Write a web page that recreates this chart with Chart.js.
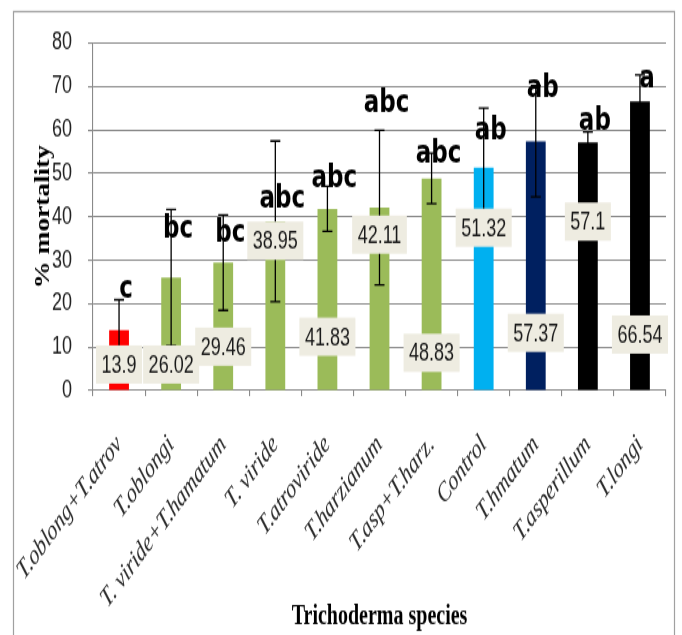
<!DOCTYPE html>
<html>
<head>
<meta charset="utf-8">
<script src="https://cdn.jsdelivr.net/npm/chart.js@4.4.0/dist/chart.umd.min.js"></script>
<style>
  html, body { margin: 0; padding: 0; background: #fff; }
  body { width: 682px; height: 635px; overflow: visible; }
  /* the source picture is a vertically stretched Excel chart */
  #wrap { width: 682px; height: 465px; transform: scaleY(1.3656); transform-origin: 0 0; }
</style>
</head>
<body>
<div id="wrap"><canvas id="chartMortality" width="682" height="465"></canvas></div>
<script>
const species = ['T.oblong+T.atrov', 'T.oblongi', 'T. viride+T.hamatum', 'T. viride', 'T.atroviride',
  'T.harzianum', 'T.asp+T.harz.', 'Control', 'T.hmatum', 'T.asperillum', 'T.longi'];
const mortality = [13.9, 26.02, 29.46, 38.95, 41.83, 42.11, 48.83, 51.32, 57.37, 57.1, 66.54];
const errors = [7.0, 15.7, 11.0, 18.5, 5.2, 17.8, 5.8, 13.7, 12.8, 2.4, 6.1];
const groups = ['c', 'bc', 'bc', 'abc', 'abc', 'abc', 'abc', 'ab', 'ab', 'ab', 'a'];
const yMin = 0, yMax = 80, yStep = 10;

// where the value boxes and the letters sit (in axis units)
const labelAt = [6.0, 6.0, 10.1, 34.5, 12.4, 35.9, 8.7, 37.5, 13.3, 38.9, 12.9];
const letterAt = [21.4, 35.2, 34.3, 42.1, 46.7, 64.1, 52.4, 57.7, 67.6, 60.0, 69.9];

const barColors = ['#ff0000', '#9bbb59', '#9bbb59', '#9bbb59', '#9bbb59', '#9bbb59', '#9bbb59',
  '#00b0f0', '#002060', '#000000', '#000000'];

const extras = {
  id: 'extras',
  beforeDraw(chart) {
    const ctx = chart.ctx;
    ctx.save();
    ctx.strokeStyle = '#a0a0a0';
    ctx.lineWidth = 1.2;
    ctx.strokeRect(13.5, 8.5, 661, 470);
    ctx.restore();
  },
  afterDatasetsDraw(chart) {
    const ctx = chart.ctx;
    const y = chart.scales.y;
    const bars = chart.getDatasetMeta(0).data;
    ctx.save();

    // error bars
    ctx.strokeStyle = '#000';
    ctx.lineWidth = 1.3;
    bars.forEach((bar, i) => {
      const top = y.getPixelForValue(mortality[i] + errors[i]);
      const bot = y.getPixelForValue(mortality[i] - errors[i]);
      ctx.beginPath();
      ctx.moveTo(bar.x, top); ctx.lineTo(bar.x, bot);
      ctx.moveTo(bar.x - 5, top); ctx.lineTo(bar.x + 5, top);
      ctx.moveTo(bar.x - 5, bot); ctx.lineTo(bar.x + 5, bot);
      ctx.stroke();
    });

    // value boxes
    ctx.font = '18px "Liberation Sans"';
    ctx.textAlign = 'center';
    ctx.textBaseline = 'middle';
    bars.forEach((bar, i) => {
      const txt = String(mortality[i]);
      const w = ctx.measureText(txt).width + 11;
      const cy = y.getPixelForValue(labelAt[i]);
      ctx.fillStyle = '#eeece1';
      ctx.fillRect(bar.x - w / 2, cy - 14, w, 28);
      ctx.fillStyle = '#1a1a1a';
      ctx.fillText(txt, bar.x, cy + 1);
    });

    // significance letters
    ctx.font = 'bold 23px "DejaVu Sans"';
    ctx.textBaseline = 'alphabetic';
    ctx.fillStyle = '#000';
    bars.forEach((bar, i) => {
      ctx.fillText(groups[i], bar.x + 7, y.getPixelForValue(letterAt[i]));
    });
    ctx.restore();
  }
};

const ctx = document.getElementById('chartMortality').getContext('2d');

const chartMortality = new Chart(ctx, {
  type: 'bar',
  data: {
    labels: species,
    datasets: [{
      data: mortality,
      backgroundColor: barColors,
      borderWidth: 0,
      barPercentage: 0.38,
      categoryPercentage: 1
    }]
  },
  options: {
    responsive: false,
    animation: false,
    devicePixelRatio: 1,
    layout: { padding: { left: 20, right: 16, top: 31.5, bottom: 0 } },
    plugins: {
      legend: { display: false },
      tooltip: { enabled: false }
    },
    scales: {
      x: {
        grid: { drawOnChartArea: false, drawTicks: true, tickLength: 4, color: '#8a8a8a', lineWidth: 1.1 },
        border: { color: '#8a8a8a', width: 1.1 },
        ticks: {
          minRotation: 45, maxRotation: 45, padding: 24, color: '#2a2a2a',
          font: { family: 'Liberation Serif', style: 'italic', size: 20 }
        },
        title: {
          display: true, text: 'Trichoderma species', color: '#000',
          font: { family: 'Liberation Serif', weight: 'bold', size: 20, lineHeight: 1 },
          padding: { top: 0, bottom: 3 }
        },
        afterFit(s) { s.height = 179; s.paddingLeft = 0; s.paddingRight = 0; }
      },
      y: {
        min: yMin, max: yMax,
        ticks: { stepSize: yStep, padding: 16, color: '#222', font: { family: 'Liberation Sans', size: 18 } },
        grid: { color: '#8a8a8a', lineWidth: 1.1, tickLength: 5 },
        border: { color: '#8a8a8a', width: 1.1 },
        title: {
          display: true, text: '% mortality', color: '#000',
          font: { family: 'Liberation Serif', weight: 'bold', size: 20, lineHeight: 1 },
          padding: { top: 14, bottom: 0 }
        },
        afterFit(s) { s.width = 73; s.paddingTop = 0; s.paddingBottom = 0; }
      }
    }
  },
  plugins: [extras]
});
</script>
</body>
</html>
